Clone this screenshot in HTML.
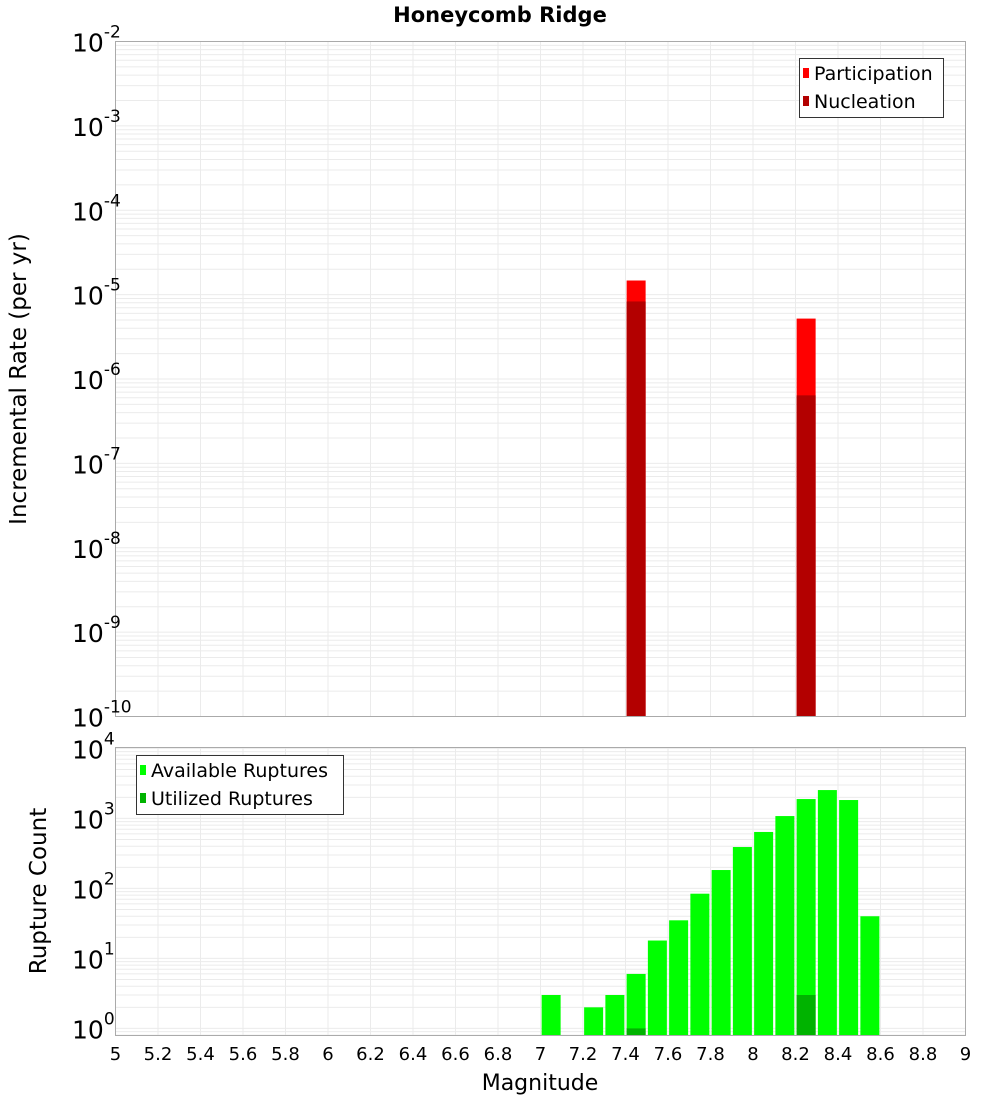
<!DOCTYPE html>
<html><head><meta charset="utf-8"><style>
body{margin:0;background:#fff;font-family:"Liberation Sans","DejaVu Sans",sans-serif}
svg text{font-family:"DejaVu Sans","Liberation Sans",sans-serif}
</style></head><body>
<svg id="c" width="1000" height="1100" xmlns="http://www.w3.org/2000/svg"></svg>
<script>
const binCenters=[7.05,7.15,7.25,7.35,7.45,7.55,7.65,7.75,7.85,7.95,8.05,8.15,8.25,8.35,8.45,8.55];
const available=[3,0,2,3,6,18,35,84,183,390,640,1080,1890,2540,1830,40];
const utilized=[0,0,0,0,1,0,0,0,0,0,0,0,3,0,0,0];
const rateMags=[7.45,8.25];
const participation=[1.47e-5,5.2e-6];
const nucleation=[8.3e-6,6.4e-7];
const xTicks=[5,5.2,5.4,5.6,5.8,6,6.2,6.4,6.6,6.8,7,7.2,7.4,7.6,7.8,8,8.2,8.4,8.6,8.8,9];
const topExps=[-2,-3,-4,-5,-6,-7,-8,-9,-10];
const botExps=[0,1,2,3,4];

const NS="http://www.w3.org/2000/svg",svg=document.getElementById('c');
function el(t,a,p){const e=document.createElementNS(NS,t);for(const k in a)e.setAttribute(k,a[k]);(p||svg).appendChild(e);return e;}
const L=115.5,R=965.5;
const X=v=>L+(v-5)/4*(R-L);
const T0=41.5,T1=716.5,tMin=-10,tMax=-2;
const YT=v=>T1-(Math.log10(v)-tMin)/(tMax-tMin)*(T1-T0);
const B0=747.5,B1=1035.5,bBase=1028.4,bDec=70;
const YB=v=>bBase-Math.log10(v)*bDec;

function grid(y0,y1,minE,maxE,yf,name){
  const g=el('g',{});
  
  
  for(const t of xTicks){el('line',{x1:X(t),x2:X(t),y1:y0,y2:y1,stroke:'#ebebeb','stroke-width':1},g);}
  for(let e=minE;e<=maxE;e++)for(let m=1;m<10;m++){const v=m*Math.pow(10,e);const y=yf(v);if(y<y0-0.1||y>y1+0.1)continue;el('line',{x1:L,x2:R,y1:y,y2:y,stroke:'#ebebeb','stroke-width':1},g);}
}
grid(T0,T1,-10,-2,YT,'top-grid');
grid(B0,B1,-1,4,YB,'bottom-grid');

// top bars
const bw=19;
rateMags.forEach((m,i)=>{
  const b=el('rect',{x:X(m)-bw/2,y:YT(participation[i]),width:bw,height:T1-YT(participation[i]),fill:'#ff0000'});
  
  
  const n=el('rect',{x:X(m)-bw/2,y:YT(nucleation[i]),width:bw,height:T1-YT(nucleation[i]),fill:'#b30000'});
  
  
});
binCenters.forEach((m,i)=>{
  if(available[i]>0){const b=el('rect',{x:X(m)-bw/2,y:YB(available[i]),width:bw,height:B1-YB(available[i]),fill:'#00ff00'});
  
  }
  if(utilized[i]>0){const u=el('rect',{x:X(m)-bw/2,y:YB(utilized[i]),width:bw,height:B1-YB(utilized[i]),fill:'#00b300'});
  
  }
});
// frames
const f1=el('rect',{x:L,y:T0,width:R-L,height:T1-T0,fill:'none',stroke:'#aaa'});


const f2=el('rect',{x:L,y:B0,width:R-L,height:B1-B0,fill:'none',stroke:'#aaa'});



function ylabel(e,y,name){
  const t=el('text',{x:72,y:y+10,'font-size':25,fill:'#000'});
  
  
  t.textContent='10';
  const s=el('tspan',{dy:-14,'font-size':17},t);s.textContent=String(e);
}
topExps.forEach(e=>ylabel(e,YT(Math.pow(10,e)),'y-tick-label'));
botExps.forEach(e=>ylabel(e,YB(Math.pow(10,e)),'y-tick-label'));
xTicks.forEach(t=>{const tx=el('text',{x:X(t),y:1060,'font-size':18,'text-anchor':'middle'});
  
  
  tx.textContent=String(t);});

function txt(s,a,name){const t=el('text',a);t.textContent=s;return t;}
txt('Honeycomb Ridge',{x:500,y:22,'font-size':21,'font-weight':'bold','text-anchor':'middle'},'chart-title');
txt('Magnitude',{x:540,y:1090,'font-size':22,'text-anchor':'middle'},'x-axis-title');
txt('Incremental Rate (per yr)',{x:0,y:0,'font-size':23,'text-anchor':'middle',transform:'translate(26,379) rotate(-90)'},'y-axis-title-top');
txt('Rupture Count',{x:0,y:0,'font-size':23,'text-anchor':'middle',transform:'translate(46,891) rotate(-90)'},'y-axis-title-bottom');

// legends
function legend(x,y,w,h,items,name){
  const g=el('g',{});
  el('rect',{x:x+0.5,y:y+0.5,width:w,height:h,fill:'#fff',stroke:'#333'},g);
  items.forEach((it,i)=>{el('rect',{x:x+4,y:y+10+i*28,width:6,height:10,fill:it[1]},g);
    const t=el('text',{x:x+15,y:y+22+i*28,'font-size':19},g);t.textContent=it[0];});
}
legend(799,58,144,59,[['Participation','#ff0000'],['Nucleation','#b30000']],'top-legend');
legend(136,755,207,59,[['Available Ruptures','#00ff00'],['Utilized Ruptures','#00b300']],'bottom-legend');
</script>
</body></html>
